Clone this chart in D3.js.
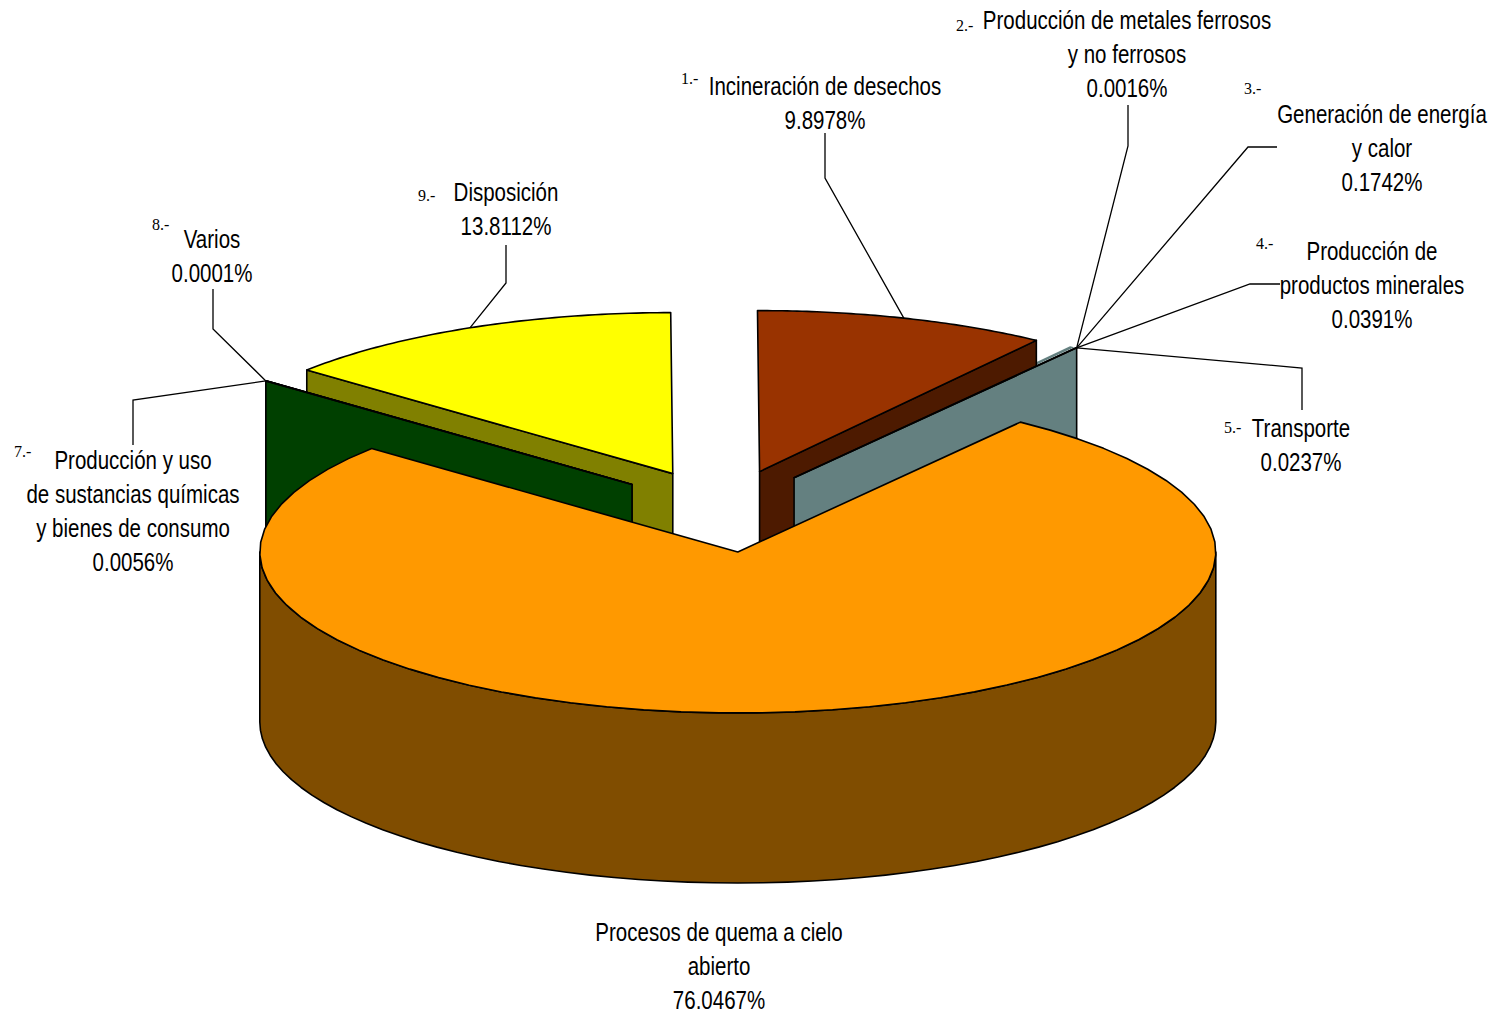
<!DOCTYPE html>
<html><head><meta charset="utf-8">
<script src="https://cdn.jsdelivr.net/npm/d3@7/dist/d3.min.js"></script>
<style>html,body{margin:0;padding:0;background:#fff;overflow:hidden}</style>
</head><body><svg id="c" width="1499" height="1014"></svg>
<script>
// ---- data ----
const sliceNames = [
  ["Incineración de desechos"],
  ["Producción de metales ferrosos","y no ferrosos"],
  ["Generación de energía","y calor"],
  ["Producción de","productos minerales"],
  ["Transporte"],
  ["Procesos de quema a cielo","abierto"],
  ["Producción y uso","de sustancias químicas","y bienes de consumo"],
  ["Varios"],
  ["Disposición"]
];
const sliceValues = [9.8978,0.0016,0.1742,0.0391,0.0237,76.0467,0.0056,0.0001,13.8112];
const slicePrefixes = ["1.-","2.-","3.-","4.-","5.-","","7.-","8.-","9.-"];

// ---- styles ----
const topColors  = ["#993300","#648080","#648080","#648080","#648080","#ff9900","#004000","#004000","#ffff00"];
const wallColors = ["#4d1a00","#648080","#648080","#648080","#648080","#804d00","#004000","#004000","#808000"];

// ---- layout ----
const W=1499,H=1014, cx=723.5, cy=511, rx=478, ry=161, depth=170, explodeX=.25, explodeY=.2565;
const rotation=-0.25*Math.PI/180, narrow=.82;
const labelX=[825,1127,1382,1372,1301,719,133,212,506];
const labelY=[86,20,114,251,428,932,460,239,192];
const prefixPos=[[681,78],[956,25],[1244,88],[1256,243],[1224,427],null,[14,451],[152,224],[418,195]];
const leaderMid=[
  [[825,133],[825,178]],[[1128,105],[1128,146]],[[1277,147],[1248,147]],[[1280,284],[1250,284]],
  [[1302,410],[1302,368]],null,[[133,445],[133,400]],[[213,289],[213,329]],[[506,245],[506,283]]
];
const sansFont='"Liberation Sans",sans-serif', serifFont='"Liberation Serif",serif';

const svg=d3.select("#c");
const arcs=d3.pie().sort(null).value(d=>d).startAngle(rotation).endAngle(rotation+2*Math.PI)(sliceValues);
const apex=a=>{const m=(a.startAngle+a.endAngle)/2;return [cx+explodeX*rx*Math.sin(m),cy-explodeY*ry*Math.cos(m)];};
const rim=(a,t)=>{const p=apex(a);return [p[0]+rx*Math.sin(t),p[1]-ry*Math.cos(t)];};
const line=d3.line();
const steps=(t0,t1)=>d3.range(0,61).map(i=>t0+(t1-t0)*i/60);
const down=p=>[p[0],p[1]+depth];

// back slices first, orange last; the hairline slices 2-4 sit behind slice 1's wall
const order=[8,7,6,1,2,3,0,4,5];
const hairline=new Set([1,2,3]);
const g=svg.append("g").attr("stroke","#000").attr("stroke-width",1.6).attr("stroke-linejoin","round");
order.forEach(i=>{
  const a=arcs[i], p=apex(a);
  const rightSide=(a.startAngle+a.endAngle)/2<Math.PI;
  const stroke=hairline.has(i)?"none":"#000";
  if(i===5){
    const t0=Math.max(a.startAngle,Math.PI/2), t1=Math.min(a.endAngle,3*Math.PI/2);
    const pts=steps(t0,t1).map(t=>rim(a,t));
    g.append("path").attr("d",line(pts.concat(pts.map(down).reverse()))+"Z").attr("fill",wallColors[i]);
  } else if(!hairline.has(i)){
    const t=rightSide?a.endAngle:a.startAngle, q=rim(a,t);
    g.append("path").attr("d",line([p,q,down(q),down(p)])+"Z").attr("fill",wallColors[i]).attr("stroke",stroke);
  }
  const top=[p].concat(steps(a.startAngle,a.endAngle).map(t=>rim(a,t)));
  g.append("path").attr("d",line(top)+"Z").attr("fill",topColors[i]).attr("stroke",stroke);
});

// leaders
const tip=rim(arcs[4],arcs[4].endAngle);
const tipLeft=rim(arcs[6],arcs[6].startAngle);
const anchor=i=>{
  if(i>=1&&i<=4) return tip;
  if(i===6||i===7) return tipLeft;
  const a=arcs[i]; return rim(a,(a.startAngle+a.endAngle)/2);
};
const lg=svg.append("g").attr("fill","none").attr("stroke","#000").attr("stroke-width",1.3);
leaderMid.forEach((m,i)=>{ if(m) lg.append("path").attr("d",line(m.concat([anchor(i)]))); });

// labels
const tg=svg.append("g").attr("fill","#000").attr("text-anchor","middle").attr("font-family",sansFont).attr("font-size",25);
const fmt=d3.format(".4f");
sliceNames.forEach((names,i)=>{
  names.concat([fmt(sliceValues[i])+"%"]).forEach((s,k)=>{
    tg.append("text").attr("transform",`translate(${labelX[i]},${labelY[i]+34*k}) scale(${narrow},1)`).attr("dy","0.35em").text(s);
  });
  if(prefixPos[i]) svg.append("text").attr("x",prefixPos[i][0]).attr("y",prefixPos[i][1]).attr("dy","0.35em")
    .attr("text-anchor","start").attr("font-family",serifFont).attr("font-size",16).text(slicePrefixes[i]);
});
</script></body></html>
